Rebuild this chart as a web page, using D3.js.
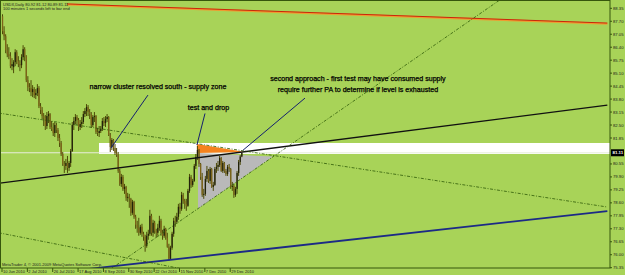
<!DOCTYPE html>
<html>
<head>
<meta charset="utf-8">
<script src="https://cdn.jsdelivr.net/npm/d3@7"></script>
<style>
html, body { margin: 0; padding: 0; background: #a8d358; }
svg { display: block; }
text { font-family: "Liberation Sans", Arial, sans-serif; }
</style>
</head>
<body>
<svg width="625" height="275"></svg>
<script>
// USDX daily, 10 Jun 2010 .. 7 Jan 2011 (one entry per bar)
const opens = [87.95,87.20,86.95,86.25,86.05,85.95,85.45,85.40,85.65,86.15,85.70,85.55,85.50,85.90,86.30,85.95,84.75,84.40,84.35,84.15,84.30,84.00,84.10,84.35,83.45,83.25,82.95,82.85,82.45,82.95,83.05,82.40,82.30,82.10,82.50,82.25,81.85,81.60,81.05,80.55,80.45,80.60,80.35,80.60,81.20,82.50,82.70,82.90,82.75,82.40,82.55,82.65,83.05,83.20,83.40,83.15,83.05,82.50,82.90,82.95,82.15,82.10,82.20,82.30,82.70,82.60,82.80,82.90,82.00,81.40,81.75,81.35,81.10,81.00,80.20,79.55,79.90,79.30,79.40,78.85,78.90,78.80,78.10,78.65,77.90,77.50,77.35,77.10,77.40,77.05,76.90,76.45,76.95,77.05,77.95,77.10,77.60,77.20,77.10,77.35,77.70,77.10,76.95,77.30,76.85,76.40,75.80,76.35,77.05,77.70,77.65,77.90,78.40,78.30,79.00,78.70,78.55,78.45,79.20,79.90,79.50,79.70,80.45,80.90,81.25,80.55,79.90,79.00,79.05,79.80,80.20,79.70,80.30,79.40,79.50,80.30,80.40,80.50,80.85,80.20,80.60,80.20,80.05,80.40,80.30,79.40,79.45,79.00,79.30,80.10,80.65,80.92];
const highs = [88.05,87.45,87.05,86.55,86.40,86.15,85.85,85.75,86.30,86.25,85.95,85.75,86.05,86.50,86.40,86.00,84.95,84.60,84.75,84.50,84.40,84.30,84.55,84.45,83.60,83.40,83.10,83.00,83.15,83.20,83.10,82.70,82.60,82.65,82.60,82.35,82.05,81.70,81.15,80.70,80.80,80.95,80.70,81.30,82.65,82.90,83.05,83.00,82.85,82.75,82.90,83.20,83.35,83.55,83.50,83.30,83.15,83.00,83.15,83.00,82.35,82.45,82.45,82.85,82.90,82.95,83.05,82.95,82.10,81.85,81.80,81.55,81.35,81.15,80.30,80.05,80.00,79.55,79.45,79.10,79.05,78.85,78.75,78.70,78.00,77.70,77.85,77.50,77.55,77.15,77.00,77.15,77.25,78.25,78.05,77.75,77.70,77.30,77.55,77.95,77.80,77.25,77.45,77.35,77.10,76.55,76.45,77.15,77.85,77.95,78.10,78.55,78.60,79.15,79.10,78.80,78.80,79.30,80.05,80.00,79.80,80.55,81.05,81.45,81.30,80.60,80.10,79.30,79.95,80.45,80.30,80.40,80.35,79.65,80.40,80.60,80.70,80.95,80.90,80.70,80.65,80.30,80.50,80.55,80.35,79.65,79.55,79.40,80.20,80.75,81.00,81.12];
const lows = [87.05,86.75,86.10,85.90,85.80,85.35,85.25,85.10,85.45,85.55,85.40,85.20,85.35,85.75,85.70,84.65,84.20,84.15,83.95,83.90,83.85,83.80,83.95,83.35,83.05,82.80,82.45,82.25,82.30,82.60,82.30,82.20,81.95,81.90,82.10,81.70,81.40,80.95,80.45,80.10,80.25,80.10,80.20,80.40,81.15,82.25,82.55,82.50,82.20,82.25,82.35,82.55,82.90,82.95,82.95,82.80,82.35,82.40,82.65,82.05,81.95,81.90,82.10,82.20,82.45,82.40,82.65,81.95,81.15,81.25,81.20,81.00,80.90,80.10,79.45,79.40,79.20,79.05,78.70,78.65,78.35,77.95,78.00,77.80,77.30,77.10,76.95,77.00,76.90,76.70,76.15,76.35,76.75,76.95,76.95,76.90,77.05,76.85,76.95,77.20,76.95,76.75,76.85,76.75,76.35,75.70,75.75,76.25,76.90,77.40,77.55,77.75,78.05,78.20,78.55,78.30,78.20,78.40,79.10,79.35,79.40,79.65,80.30,80.75,80.40,79.75,78.90,78.80,78.95,79.65,79.60,79.55,79.35,79.20,79.45,80.10,80.20,80.40,80.15,80.10,80.10,79.95,79.95,80.15,79.30,79.20,78.85,78.90,79.05,79.95,80.50,80.89];
const closes = [87.20,86.95,86.25,86.05,85.95,85.45,85.55,85.65,86.15,85.70,85.55,85.50,85.90,86.30,85.95,84.75,84.40,84.35,84.15,84.30,84.00,84.10,84.35,83.45,83.25,82.95,82.85,82.45,82.95,83.05,82.40,82.30,82.10,82.50,82.25,81.85,81.60,81.05,80.55,80.45,80.60,80.35,80.60,81.20,82.50,82.70,82.90,82.75,82.40,82.55,82.65,83.05,83.20,83.40,83.15,83.05,82.50,82.90,82.95,82.15,82.10,82.20,82.30,82.70,82.60,82.80,82.90,82.00,81.40,81.75,81.35,81.10,81.00,80.20,79.55,79.90,79.30,79.40,78.85,78.90,78.80,78.10,78.65,77.90,77.50,77.35,77.10,77.40,77.05,76.90,76.45,76.95,77.05,77.95,77.10,77.60,77.20,77.10,77.35,77.70,77.10,76.95,77.30,76.85,76.40,75.80,76.35,77.05,77.70,77.65,77.90,78.40,78.30,79.00,78.70,78.55,78.45,79.20,79.90,79.50,79.70,80.45,80.90,81.25,80.55,79.90,79.00,79.05,79.80,80.20,79.70,80.30,79.40,79.50,80.30,80.40,80.50,80.85,80.20,80.60,80.20,80.05,80.40,80.30,79.40,79.45,79.00,79.30,80.10,80.65,80.92,81.11];

const bid = 81.11;

// axis labels
const dateTickBars = [0, 16, 32, 48, 64, 80, 96, 112, 128, 144];
const dateTickLabels = ["10 Jun 2010", "2 Jul 2010", "26 Jul 2010", "17 Aug 2010", "8 Sep 2010",
  "30 Sep 2010", "22 Oct 2010", "15 Nov 2010", "7 Dec 2010", "29 Dec 2010"];
const priceTicks = [88.35, 87.70, 87.05, 86.40, 85.75, 85.10, 84.45, 83.80, 83.15, 82.50, 81.85,
  81.20, 80.55, 79.90, 79.25, 78.60, 77.95, 77.30, 76.65, 76.00, 75.35];

// drawn objects, as [bar, price] points
const redLine = [[41, 88.57], [382, 87.61]];
const blackLine = [[-2, 79.58], [382, 83.50]];
const blueLine = [[55, 75.29], [382, 78.19]];
const dashDown1 = [[-2, 83.10], [382, 78.39]];
const dashDown2 = [[-2, 77.10], [115, 75.27]];
const dashUp = [[65, 75.09], [320, 89.09]];
const zoneBars = [61.2, 390];
const zonePrices = [81.05, 81.60];
const orangeTri = [[123, 81.55], [123, 81.10], [153.3, 81.15]];
const grayTri = [[123.7, 81.10], [123.7, 78.31], [171, 80.92]];
const pointers = [
  [[92.1, 84.00], [68.8, 81.35]],
  [[128.1, 83.08], [123.0, 81.50]],
  [[191.2, 83.85], [152.1, 81.24]]
];
const noteTexts = ["narrow cluster resolved south - supply zone", "test and drop",
  "second approach - first test may have consumed supply",
  "require further PA to determine if level is exhausted"];
const noteBars = [98.4, 130.3, 224.6, 224.6];
const notePrices = [84.30, 83.25, 84.72, 84.18];

const svg = d3.select("svg");
const W = 625, H = 275;
const plotRight = 610, plotBottom = 268;

const x = d3.scaleLinear().domain([0, 144]).range([2, 230.2]);
const y = d3.scaleLinear().domain([75.35, 88.35]).range([267.7, 8.3]);

svg.append("rect").attr("width", W).attr("height", H).attr("fill", "#a8d358");

svg.append("defs").append("clipPath").attr("id", "plot")
  .append("rect").attr("x", 0).attr("y", 0).attr("width", plotRight).attr("height", plotBottom);

const plot = svg.append("g").attr("clip-path", "url(#plot)");

const line = d3.line().x(d => x(d[0])).y(d => y(d[1]));

// supply zone + bid line
plot.append("rect")
  .attr("x", x(zoneBars[0])).attr("width", x(zoneBars[1]) - x(zoneBars[0]))
  .attr("y", y(zonePrices[1])).attr("height", y(zonePrices[0]) - y(zonePrices[1]))
  .attr("fill", "#ffffff");

plot.append("line")
  .attr("x1", 0).attr("x2", plotRight)
  .attr("y1", y(bid)).attr("y2", y(bid))
  .attr("stroke", "#e8eedc").attr("stroke-width", 1);

// triangles
plot.append("path").datum(grayTri).attr("d", d => line(d) + "Z").attr("fill", "#b9b9b9");
plot.append("path").datum(orangeTri).attr("d", d => line(d) + "Z").attr("fill", "#f5821e");

// candles
const bars = closes.map((c, i) => ({ i: i, o: opens[i], h: highs[i], l: lows[i], c: c }));
const cg = plot.append("g");
cg.selectAll("line.wick").data(bars).join("line")
  .attr("class", "wick")
  .attr("x1", d => x(d.i) + 0.5).attr("x2", d => x(d.i) + 0.5)
  .attr("y1", d => y(d.h)).attr("y2", d => y(d.l))
  .attr("stroke", "#4d4a08").attr("stroke-width", 1);
cg.selectAll("rect.body").data(bars).join("rect")
  .attr("class", "body")
  .attr("x", d => x(d.i) - 0.1).attr("width", 1.3)
  .attr("y", d => y(Math.max(d.o, d.c)))
  .attr("height", d => Math.max(0.8, Math.abs(y(d.o) - y(d.c))))
  .attr("fill", d => d.c >= d.o ? "#22220a" : "#7d6418");

// trend lines
plot.append("path").datum(blackLine).attr("d", line)
  .attr("fill", "none").attr("stroke", "#111").attr("stroke-width", 1.3);
plot.append("path").datum(blueLine).attr("d", line)
  .attr("fill", "none").attr("stroke", "#1c2a86").attr("stroke-width", 1.8);
plot.append("path").datum(redLine).attr("d", line)
  .attr("fill", "none").attr("stroke", "#f09a30").attr("stroke-width", 2)
  .attr("transform", "translate(0,0.6)");
plot.append("path").datum(redLine).attr("d", line)
  .attr("fill", "none").attr("stroke", "#c8260a").attr("stroke-width", 1);

[dashDown1, dashDown2, dashUp].forEach(pts => {
  plot.append("path").datum(pts).attr("d", line)
    .attr("fill", "none").attr("stroke", "#2f5a08").attr("stroke-width", 0.8)
    .attr("stroke-dasharray", "3,1.5,1,1.5");
});

// annotation pointers
pointers.forEach(pts => {
  plot.append("path").datum(pts).attr("d", line)
    .attr("fill", "none").attr("stroke", "#14206e").attr("stroke-width", 1);
});

// annotation texts
plot.selectAll("text.note").data(noteTexts).join("text")
  .attr("class", "note")
  .attr("x", (d, i) => x(noteBars[i])).attr("y", (d, i) => y(notePrices[i]))
  .attr("text-anchor", "middle")
  .attr("font-size", 7.1).attr("fill", "#000")
  .attr("stroke", "#000").attr("stroke-width", 0.25)
  .text(d => d);

// frame
svg.append("rect").attr("x", 0.5).attr("y", 0.5)
  .attr("width", plotRight - 0.5).attr("height", plotBottom - 0.5)
  .attr("fill", "none").attr("stroke", "#36560c").attr("stroke-width", 1);

// price axis
const shownTicks = priceTicks.filter(p => Math.abs(y(p) - y(bid)) > 5);
svg.selectAll("line.ptick").data(shownTicks).join("line")
  .attr("class", "ptick")
  .attr("x1", plotRight).attr("x2", plotRight + 2)
  .attr("y1", d => y(d)).attr("y2", d => y(d))
  .attr("stroke", "#36560c");
svg.selectAll("text.ptick").data(shownTicks).join("text")
  .attr("class", "ptick")
  .attr("x", plotRight + 3).attr("y", d => y(d) + 1.5)
  .attr("font-size", 4.2).attr("fill", "#1a1a1a")
  .text(d => d.toFixed(2));

svg.append("rect").attr("x", plotRight + 1).attr("y", y(bid) - 3.5)
  .attr("width", 13).attr("height", 7).attr("fill", "#000");
svg.append("text").attr("x", plotRight + 2.5).attr("y", y(bid) + 1.6)
  .attr("font-size", 4.4).attr("font-weight", "bold").attr("fill", "#fff")
  .text(bid.toFixed(2));

// date axis
svg.selectAll("line.dtick").data(dateTickBars).join("line")
  .attr("class", "dtick")
  .attr("x1", d => x(d)).attr("x2", d => x(d))
  .attr("y1", plotBottom).attr("y2", plotBottom + 4)
  .attr("stroke", "#36560c");
svg.selectAll("text.dtick").data(dateTickBars).join("text")
  .attr("class", "dtick")
  .attr("x", d => x(d) + 1).attr("y", plotBottom + 5)
  .attr("font-size", 4).attr("fill", "#1a1a1a")
  .text((d, i) => dateTickLabels[i]);

// info lines
svg.append("text").attr("x", 3).attr("y", 5.5).attr("font-size", 4).attr("fill", "#1a1a1a")
  .text("USDX,Daily  80.92 81.12 80.89 81.11");
svg.append("text").attr("x", 3).attr("y", 10).attr("font-size", 4).attr("fill", "#1a1a1a")
  .text("100 minutes 1 seconds left to bar end");
svg.append("text").attr("x", 2).attr("y", 265.5).attr("font-size", 4).attr("fill", "#1a1a1a")
  .text("MetaTrader 4, \u00a9 2001-2009 MetaQuotes Software Corp.");
</script>
</body>
</html>
